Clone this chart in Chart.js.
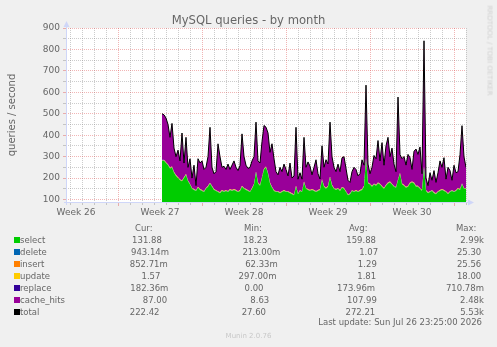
<!DOCTYPE html>
<html><head><meta charset="utf-8">
<script src="https://cdn.jsdelivr.net/npm/chart.js@4.4.1/dist/chart.umd.min.js"></script>
<style>
html,body{margin:0;padding:0;background:#F0F0F0;}
#wrap{position:relative;width:497px;height:347px;overflow:hidden;font-family:'DejaVu Sans',sans-serif;color:#666;background:#F0F0F0;}
#c{position:absolute;left:0;top:0;}
.txt{position:absolute;white-space:pre;}
.row{position:absolute;left:14px;width:470px;display:flex;justify-content:space-between;white-space:pre;font-size:8.5px;line-height:12px;}
.sw{display:inline-block;width:6px;height:6px;vertical-align:baseline;}
</style></head><body>
<div id="wrap">
<canvas id="c" width="497" height="347"></canvas>
<div class="txt" id="title" style="left:0;width:497px;text-align:center;top:14.7px;font-size:11.6px;line-height:11.6px;">MySQL queries - by month</div>
<div class="txt" id="ylab" style="left:-48px;width:120px;text-align:center;top:110px;font-size:10px;line-height:10px;transform:rotate(-90deg);">queries / second</div>
<div class="txt" id="wm" style="left:429px;width:120px;text-align:center;top:47px;font-size:7px;line-height:7px;color:#d0d0d0;transform:rotate(90deg);">RRDTOOL / TOBI OETIKER</div>
<div id="legend"></div>
<div class="txt" id="upd" style="right:15px;top:316px;font-size:8.5px;line-height:12px;">Last update: Sun Jul 26 23:25:00 2026</div>
<div class="txt" id="munin" style="left:0;width:497px;text-align:center;top:329.6px;font-size:7px;line-height:12px;color:#c8c8c8;">Munin 2.0.76</div>
</div>
<script>
// ---- time layout (hours from the left edge of the graph) ----
const GRAPH_HOURS = 800;
const FIRST_SAMPLE_HOUR = 192;
const SAMPLE_HOURS = 4;
const DAY_GRID_FIRST = 8;
const WEEK_GRID_FIRST = 104;
const WEEK_MID_HOURS = [20, 188, 356, 524, 692];
const WEEK_LABELS = ['Week 26', 'Week 27', 'Week 28', 'Week 29', 'Week 30'];
const Y_MIN = 84, Y_MAX = 900;
const Y_MAJOR = [100, 200, 300, 400, 500, 600, 700, 800, 900];
const Y_MINOR = [150, 250, 350, 450, 550, 650, 750, 850];

// ---- series (queries / second), one sample every 4 hours ----
const selectVals = [
281,281,270,260,245,250,225,210,200,190,
185,200,215,185,170,150,145,140,155,145,
140,135,150,160,175,160,145,140,135,130,
140,135,140,135,145,140,145,140,135,140,
160,150,145,140,135,150,170,227,175,165,
200,240,250,220,175,155,140,135,135,130,
135,140,135,135,130,125,120,160,125,140,
135,180,150,145,140,145,140,135,140,145,
190,160,150,160,203,165,150,145,150,140,
155,150,135,120,125,140,135,140,135,140,
145,160,289,175,170,160,170,165,175,170,
160,150,165,175,180,170,160,155,190,220,
170,165,155,160,175,180,175,160,160,150,
140,250,140,130,135,140,130,125,135,140,
145,140,135,125,135,140,135,140,150,145,
172,150,150];
const cacheHitsVals = [
215,210,206,186,141,201,111,86,126,86,
221,66,171,61,116,46,111,21,131,121,
136,101,96,136,258,86,71,86,221,166,
106,116,96,126,91,116,131,106,96,114,
242,146,111,101,111,126,126,230,101,101,
166,201,183,186,141,201,146,91,76,116,
91,121,101,71,136,71,86,273,66,81,
56,206,96,126,111,66,106,146,76,46,
156,86,131,101,254,131,96,81,111,86,
136,146,106,66,51,86,111,96,71,76,
136,96,340,86,46,86,131,121,196,106,
201,106,181,211,116,166,101,71,384,86,
116,131,101,146,116,56,146,171,146,191,
76,586,56,31,86,46,101,51,86,136,
101,151,56,121,96,46,121,81,76,161,
269,146,96];
// small series, one value per day
const deleteDaily = [1.02,0.98,1.10,1.05,0.95,1.12,1.08,0.99,1.15,1.03,1.06,0.97,1.10,1.21,1.04,0.96,1.09,1.11,1.02,0.94,1.13,1.07,1.00,1.05,0.98,0.94];
const insertDaily = [1.25,1.31,1.22,1.40,1.18,1.35,1.28,1.20,1.33,1.27,1.30,1.19,1.36,1.42,1.24,1.21,1.29,1.34,1.26,1.17,1.38,1.31,1.23,1.28,1.22,0.85];
const updateDaily = [1.75,1.82,1.70,1.90,1.68,1.85,1.79,1.72,1.88,1.80,1.83,1.71,1.86,1.95,1.77,1.69,1.81,1.87,1.78,1.66,1.92,1.84,1.74,1.80,1.73,1.57];
const replaceDaily = [0.17,0.18,0.16,0.19,0.15,0.18,0.17,0.16,0.18,0.17,0.18,0.16,0.18,0.20,0.17,0.16,0.17,0.18,0.17,0.15,0.19,0.18,0.17,0.17,0.16,0.18];

// ---- legend ----
const SERIES = ['select','delete','insert','update','replace','cache_hits','total'];
const COLORS = ['#00CC00','#0066B3','#FF8000','#FFCC00','#330099','#990099','#000000'];
const CUR = ['131.88','943.14m','852.71m','1.57','182.36m','87.00','222.42'];
const MIN = ['18.23','213.00m','62.33m','297.00m','0.00','8.63','27.60'];
const AVG = ['159.88','1.07','1.29','1.81','173.96m','107.99','272.21'];
const MAX = ['2.99k','25.30','25.56','18.00','710.78m','2.48k','5.53k'];

// build point lists
const hourOf = k => FIRST_SAMPLE_HOUR + k * SAMPLE_HOURS;
const dayIdx = k => Math.floor(k * SAMPLE_HOURS / 24);
const pts = arr => arr.map((v, k) => ({x: hourOf(k), y: v}));
const daily = arr => selectVals.map((_, k) => ({x: hourOf(k), y: arr[dayIdx(k)]}));
const totalVals = selectVals.map((s, k) => s + cacheHitsVals[k] + deleteDaily[dayIdx(k)] + insertDaily[dayIdx(k)] + updateDaily[dayIdx(k)] + replaceDaily[dayIdx(k)]);

function area(label, data, color, fill) {
  return {label, data, backgroundColor: color, borderColor: color, borderWidth: 0, fill, pointRadius: 0, tension: 0, stack: 'a', order: 1};
}
const datasets = [
  area('select', pts(selectVals), COLORS[0], 'origin'),
  area('delete', daily(deleteDaily), COLORS[1], '-1'),
  area('insert', daily(insertDaily), COLORS[2], '-1'),
  area('update', daily(updateDaily), COLORS[3], '-1'),
  area('replace', daily(replaceDaily), COLORS[4], '-1'),
  area('cache_hits', pts(cacheHitsVals), COLORS[5], '-1'),
  {label: 'total', data: pts(totalVals), borderColor: '#000', backgroundColor: '#000', borderWidth: 1, fill: false, pointRadius: 0, tension: 0, stack: 'b', order: 0}
];

const GRID = 'rgba(143,143,143,0.45)';
const MGRID = 'rgba(222,79,79,0.42)';
const AXIS = '#CFD6F8';

const gridPlugin = {
  id: 'munGrid',
  beforeDraw(chart) {
    const {ctx, chartArea: a} = chart;
    ctx.save();
    ctx.fillStyle = '#FFFFFF';
    ctx.fillRect(a.left, a.top, a.right - a.left, a.bottom - a.top);
    ctx.restore();
  },
  beforeDatasetsDraw(chart) {
    const {ctx, chartArea: a, scales: {x, y}} = chart;
    ctx.save();
    ctx.lineWidth = 1;
    const hline = (v, col) => {
      const py = Math.floor(y.getPixelForValue(v)) + 0.5;
      ctx.strokeStyle = col; ctx.setLineDash([1, 1]);
      ctx.beginPath(); ctx.moveTo(a.left, py); ctx.lineTo(a.right, py); ctx.stroke();
      ctx.setLineDash([]);
      ctx.beginPath(); ctx.moveTo(a.left - 3, py); ctx.lineTo(a.left, py); ctx.stroke();
    };
    const vline = (h, col, tl) => {
      const px = Math.floor(x.getPixelForValue(h)) + 0.5;
      ctx.strokeStyle = col; ctx.setLineDash([1, 1]);
      ctx.beginPath(); ctx.moveTo(px, a.top); ctx.lineTo(px, a.bottom); ctx.stroke();
      ctx.setLineDash([]);
      ctx.beginPath(); ctx.moveTo(px, a.bottom); ctx.lineTo(px, a.bottom + tl); ctx.stroke();
    };
    Y_MINOR.forEach(v => hline(v, GRID));
    for (let h = DAY_GRID_FIRST; h <= GRAPH_HOURS; h += 24) {
      if ((h - WEEK_GRID_FIRST) % 168 !== 0) vline(h, GRID, 2);
    }
    Y_MAJOR.forEach(v => hline(v, MGRID));
    for (let h = WEEK_GRID_FIRST; h <= GRAPH_HOURS; h += 168) vline(h, MGRID, 3);
    ctx.restore();
  },
  afterDatasetsDraw(chart) {
    const {ctx, chartArea: a} = chart;
    ctx.save();
    ctx.strokeStyle = AXIS; ctx.fillStyle = AXIS; ctx.lineWidth = 1;
    const ax = a.left + 0.5, ay = a.bottom - 0.5;
    ctx.beginPath(); ctx.moveTo(ax, a.bottom + 2); ctx.lineTo(ax, a.top - 3); ctx.stroke();
    ctx.beginPath(); ctx.moveTo(a.left - 2, ay); ctx.lineTo(a.right + 3, ay); ctx.stroke();
    ctx.beginPath(); ctx.moveTo(ax, a.top - 7); ctx.lineTo(ax - 3, a.top - 1); ctx.lineTo(ax + 3, a.top - 1); ctx.closePath(); ctx.fill();
    ctx.beginPath(); ctx.moveTo(a.right + 8, ay); ctx.lineTo(a.right + 2, ay - 3); ctx.lineTo(a.right + 2, ay + 3); ctx.closePath(); ctx.fill();
    ctx.restore();
  }
};

new Chart(document.getElementById('c'), {
  type: 'line',
  data: {datasets},
  plugins: [gridPlugin],
  options: {
    responsive: false, animation: false, events: [],
    devicePixelRatio: 1,
    layout: {padding: {left: 0, right: 31, top: 28, bottom: 124}},
    plugins: {legend: {display: false}, tooltip: {enabled: false}},
    scales: {
      x: {
        type: 'linear', min: 0, max: GRAPH_HOURS,
        grid: {display: false, drawTicks: false}, border: {display: false},
        afterBuildTicks: s => { s.ticks = WEEK_MID_HOURS.map(v => ({value: v})); },
        afterFit: s => { s.height = 20; },
        ticks: {autoSkip: false, maxRotation: 0, padding: 4, color: '#666', font: {family: 'DejaVu Sans', size: 9},
          callback: v => WEEK_LABELS[WEEK_MID_HOURS.indexOf(v)] || ''}
      },
      y: {
        type: 'linear', min: Y_MIN, max: Y_MAX, stacked: true,
        grid: {display: false, drawTicks: false}, border: {display: false},
        afterBuildTicks: s => { s.ticks = Y_MAJOR.map(v => ({value: v})); },
        afterFit: s => { s.width = 66; },
        ticks: {padding: 6, color: '#666', font: {family: 'DejaVu Sans', size: 9}}
      }
    }
  }
});

// legend rows
const fmt = s => { const m = s.match(/^([\d.]+)([mk]?)$/); return m[1].padStart(6, ' ') + (m[2] || ' '); };
const leg = document.getElementById('legend');
const hdr = [['Cur:', 135], ['Min:', 244], ['Avg:', 349], ['Max:', 456]];
hdr.forEach(([t, x]) => {
  const d = document.createElement('div');
  d.className = 'txt'; d.style.cssText = `left:${x}px;top:221.6px;font-size:8.5px;line-height:12px;`;
  d.textContent = t; leg.appendChild(d);
});
SERIES.forEach((name, i) => {
  const r = document.createElement('div');
  r.className = 'row'; r.style.top = (233.8 + 12 * i) + 'px';
  const first = document.createElement('span');
  const sw = document.createElement('span'); sw.className = 'sw'; sw.style.background = COLORS[i];
  first.appendChild(sw); first.appendChild(document.createTextNode(name.padEnd(10, ' ')));
  r.appendChild(first);
  [CUR[i], MIN[i], AVG[i], MAX[i]].forEach(v => {
    const s = document.createElement('span'); s.textContent = fmt(v); r.appendChild(s);
  });
  leg.appendChild(r);
});
</script>
</body></html>
